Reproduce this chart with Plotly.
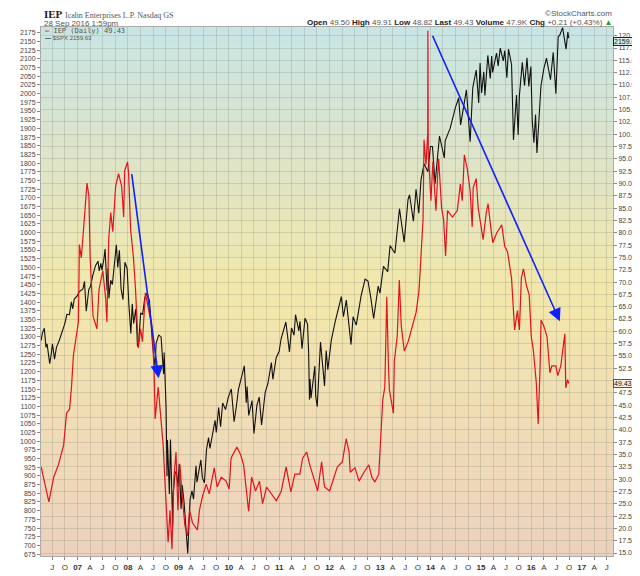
import pandas as pd
import plotly.graph_objects as go

# $SPX (left axis)
spx_dates = [
    "2006-04-12", "2006-04-21", "2006-05-05", "2006-05-17", "2006-05-25", "2006-06-13", "2006-06-22",
    "2006-07-03", "2006-07-18", "2006-08-01", "2006-08-23", "2006-09-12", "2006-09-29", "2006-10-16",
    "2006-11-03", "2006-11-17", "2006-11-27", "2006-12-08", "2006-12-29", "2007-01-12", "2007-02-09",
    "2007-02-20", "2007-03-05", "2007-03-23", "2007-04-04", "2007-04-23", "2007-05-11", "2007-05-29",
    "2007-06-07", "2007-06-19", "2007-06-27", "2007-07-11", "2007-07-19", "2007-08-03", "2007-08-09",
    "2007-08-16", "2007-08-29", "2007-09-10", "2007-09-25", "2007-10-09", "2007-10-19", "2007-10-31",
    "2007-11-12", "2007-11-26", "2007-12-10", "2007-12-26", "2008-01-08", "2008-01-22", "2008-02-01",
    "2008-02-11", "2008-02-27", "2008-03-10", "2008-03-17", "2008-04-02", "2008-04-16", "2008-05-02",
    "2008-05-19", "2008-06-05", "2008-06-27", "2008-07-15", "2008-07-23", "2008-08-11", "2008-08-28",
    "2008-09-15", "2008-09-19", "2008-09-29", "2008-10-03", "2008-10-10", "2008-10-13", "2008-10-27",
    "2008-11-04", "2008-11-20", "2008-11-24", "2008-12-08", "2008-12-16", "2008-12-29", "2009-01-06",
    "2009-01-20", "2009-01-28", "2009-02-10", "2009-02-23", "2009-03-09", "2009-03-26", "2009-04-09",
    "2009-04-20", "2009-05-08", "2009-05-15", "2009-06-12", "2009-06-23", "2009-07-08", "2009-07-23",
    "2009-08-07", "2009-08-17", "2009-09-04", "2009-09-23", "2009-10-02", "2009-10-19", "2009-11-02",
    "2009-11-17", "2009-12-08", "2009-12-28", "2010-01-19", "2010-02-08", "2010-02-25", "2010-03-12",
    "2010-04-23", "2010-05-07", "2010-05-13", "2010-05-25", "2010-06-18", "2010-07-02", "2010-07-23",
    "2010-08-09", "2010-08-26", "2010-09-21", "2010-10-11", "2010-11-05", "2010-11-16", "2010-12-10",
    "2010-12-31", "2011-01-14", "2011-02-18", "2011-03-16", "2011-03-31", "2011-04-18", "2011-04-29",
    "2011-05-23", "2011-05-31", "2011-06-15", "2011-07-07", "2011-07-25", "2011-08-02", "2011-08-08",
    "2011-08-12", "2011-08-19", "2011-09-16", "2011-09-22", "2011-10-03", "2011-10-27", "2011-11-25",
    "2011-12-07", "2011-12-19", "2012-01-13", "2012-02-10", "2012-03-26", "2012-04-10", "2012-05-01",
    "2012-06-04", "2012-06-19", "2012-07-12", "2012-08-16", "2012-09-14", "2012-10-05", "2012-10-26",
    "2012-11-15", "2012-12-18", "2012-12-31", "2013-01-25", "2013-02-25", "2013-03-14", "2013-04-18",
    "2013-05-21", "2013-06-24", "2013-07-22", "2013-08-02", "2013-08-30", "2013-09-18", "2013-10-08",
    "2013-10-24", "2013-11-15", "2013-12-13", "2013-12-31", "2014-01-15", "2014-02-03", "2014-03-07",
    "2014-04-11", "2014-04-17", "2014-05-23", "2014-06-30", "2014-07-24", "2014-08-07", "2014-09-18",
    "2014-10-15", "2014-11-03", "2014-11-28", "2014-12-16", "2014-12-26", "2015-01-06", "2015-01-22",
    "2015-01-30", "2015-02-20", "2015-03-10", "2015-03-20", "2015-03-27", "2015-04-24", "2015-05-06",
    "2015-05-21", "2015-06-12", "2015-06-23", "2015-07-08", "2015-07-20", "2015-08-11", "2015-08-25",
    "2015-09-16", "2015-09-28", "2015-10-07", "2015-10-28", "2015-11-13", "2015-12-01", "2015-12-14",
    "2015-12-29", "2016-01-08", "2016-01-20", "2016-02-01", "2016-02-11", "2016-03-11", "2016-04-01",
    "2016-04-20", "2016-05-19", "2016-06-08", "2016-06-27", "2016-07-14", "2016-07-26", "2016-08-15",
    "2016-09-09", "2016-09-22", "2016-09-28",
]
spx_close = [
    1290, 1311, 1325, 1270, 1280, 1223, 1245,
    1280, 1236, 1270, 1292, 1313, 1336, 1365,
    1364, 1401, 1381, 1409, 1418, 1430, 1438,
    1460, 1374, 1436, 1445, 1480, 1505, 1518,
    1490, 1512, 1492, 1525, 1553, 1433, 1497,
    1411, 1463, 1451, 1518, 1565, 1500, 1549,
    1439, 1407, 1515, 1497, 1390, 1310, 1395,
    1339, 1381, 1273, 1276, 1369, 1364, 1413,
    1426, 1404, 1278, 1214, 1282, 1305, 1300,
    1193, 1255, 1106, 1099, 899, 1003, 848,
    1005, 752, 852, 909, 913, 869, 935,
    805, 874, 827, 743, 677, 832, 857,
    833, 929, 882, 946, 895, 880, 976,
    1010, 979, 1016, 1060, 1025, 1097, 1042,
    1110, 1091, 1127, 1150, 1056, 1102, 1150,
    1217, 1111, 1157, 1074, 1117, 1022, 1103,
    1127, 1047, 1140, 1166, 1226, 1178, 1240,
    1258, 1294, 1343, 1257, 1326, 1305, 1364,
    1317, 1345, 1266, 1354, 1337, 1254, 1119,
    1179, 1124, 1216, 1130, 1099, 1285, 1159,
    1261, 1206, 1290, 1343, 1416, 1358, 1406,
    1278, 1358, 1334, 1418, 1466, 1461, 1411,
    1353, 1446, 1426, 1503, 1488, 1563, 1541,
    1669, 1573, 1695, 1709, 1633, 1725, 1656,
    1752, 1798, 1775, 1848, 1848, 1741, 1878,
    1815, 1864, 1900, 1960, 1988, 1910, 2011,
    1862, 2017, 2068, 1973, 2088, 2002, 2063,
    1995, 2110, 2044, 2108, 2061, 2117, 2080,
    2131, 2094, 2124, 2046, 2128, 2084, 1867,
    1996, 1881, 1995, 2090, 2023, 2103, 2021,
    2078, 1922, 1859, 1940, 1829, 2022, 2072,
    2102, 2040, 2119, 2000, 2163, 2169, 2190,
    2128, 2177, 2159.63,
]

# IEP daily (right axis)
iep_dates = [
    "2006-04-12", "2006-06-07", "2006-07-12", "2006-08-15", "2006-09-22", "2006-10-13", "2006-11-04",
    "2006-11-18", "2006-12-02", "2006-12-16", "2007-01-07", "2007-01-14", "2007-01-28", "2007-02-19",
    "2007-03-10", "2007-03-24", "2007-04-02", "2007-04-23", "2007-05-21", "2007-06-05", "2007-07-03",
    "2007-07-24", "2007-08-01", "2007-08-15", "2007-08-29", "2007-09-13", "2007-10-04", "2007-10-25",
    "2007-11-16", "2007-12-01", "2007-12-08", "2007-12-29", "2008-01-06", "2008-01-20", "2008-02-10",
    "2008-02-25", "2008-03-16", "2008-04-01", "2008-04-15", "2008-05-06", "2008-05-27", "2008-06-25",
    "2008-07-09", "2008-07-16", "2008-08-07", "2008-08-29", "2008-09-12", "2008-09-26", "2008-10-18",
    "2008-11-01", "2008-11-15", "2008-11-29", "2008-12-14", "2008-12-28", "2009-01-12", "2009-01-26",
    "2009-02-17", "2009-03-08", "2009-03-22", "2009-04-13", "2009-05-18", "2009-06-02", "2009-06-23",
    "2009-07-21", "2009-08-12", "2009-09-17", "2009-10-08", "2009-11-07", "2009-12-12", "2010-01-03",
    "2010-01-17", "2010-02-28", "2010-03-28", "2010-04-18", "2010-05-10", "2010-05-24", "2010-06-15",
    "2010-07-13", "2010-08-11", "2010-09-02", "2010-10-01", "2010-11-06", "2010-12-11", "2011-01-16",
    "2011-02-20", "2011-03-26", "2011-04-24", "2011-05-30", "2011-06-20", "2011-07-19", "2011-08-10",
    "2011-09-15", "2011-10-06", "2011-11-04", "2011-11-25", "2012-01-01", "2012-01-22", "2012-02-26",
    "2012-04-02", "2012-04-30", "2012-05-21", "2012-05-29", "2012-07-03", "2012-08-01", "2012-09-06",
    "2012-10-11", "2012-11-02", "2012-11-24", "2012-12-22", "2013-01-06", "2013-01-20", "2013-02-04",
    "2013-02-18", "2013-03-02", "2013-03-09", "2013-04-07", "2013-04-14", "2013-05-05", "2013-05-20",
    "2013-06-03", "2013-06-25", "2013-07-23", "2013-08-28", "2013-09-19", "2013-10-10", "2013-10-24",
    "2013-11-08", "2013-11-15", "2013-11-29", "2013-12-12", "2013-12-13", "2013-12-16", "2013-12-20",
    "2014-01-04", "2014-01-18", "2014-02-09", "2014-02-23", "2014-03-01", "2014-03-22", "2014-04-06",
    "2014-04-20", "2014-05-04", "2014-06-09", "2014-07-14", "2014-08-05", "2014-08-19", "2014-09-03",
    "2014-09-24", "2014-10-15", "2014-10-30", "2014-11-06", "2014-11-28", "2014-12-12", "2014-12-26",
    "2015-01-17", "2015-02-08", "2015-02-22", "2015-03-13", "2015-03-28", "2015-04-26", "2015-06-01",
    "2015-06-22", "2015-07-13", "2015-08-11", "2015-09-02", "2015-09-23", "2015-10-07", "2015-10-21",
    "2015-11-05", "2015-11-26", "2015-12-17", "2016-01-01", "2016-01-15", "2016-02-06", "2016-02-13",
    "2016-02-20", "2016-03-05", "2016-03-12", "2016-04-03", "2016-04-24", "2016-05-15", "2016-05-29",
    "2016-06-27", "2016-07-11", "2016-08-02", "2016-08-16", "2016-08-31", "2016-09-07", "2016-09-20",
    "2016-09-28",
]
iep_close = [
    32.5, 25.4, 30.4, 32.9, 36.9, 43.4, 44.2,
    48.7, 55.2, 57.9, 61.9, 77.6, 74.9, 82.8,
    90.1, 87.5, 74.9, 63.1, 60.5, 68.4, 72.3,
    66.4, 61.9, 78.8, 84.1, 80.2, 89.5, 92.0,
    89.5, 83.2, 92.6, 94.4, 92.0, 80.8, 74.9,
    68.4, 56.6, 60.5, 57.9, 67.8, 65.0, 60.5,
    51.2, 42.2, 48.7, 42.2, 36.9, 29.0, 17.2,
    23.7, 15.8, 30.4, 35.5, 23.7, 32.9, 27.0,
    20.5, 18.5, 23.7, 21.1, 19.7, 23.7, 26.4,
    29.0, 27.0, 32.3, 28.4, 30.4, 29.6, 28.0,
    34.3, 36.5, 34.9, 32.9, 27.6, 23.5, 30.4,
    27.6, 29.6, 25.0, 28.4, 27.0, 25.6, 27.6,
    32.5, 27.4, 31.0, 31.0, 34.3, 35.5, 32.9,
    29.6, 27.6, 33.5, 28.4, 27.6, 29.6, 32.5,
    33.5, 38.2, 35.5, 31.4, 32.3, 29.6, 31.4,
    32.9, 30.4, 29.4, 31.0, 38.2, 46.1, 48.7,
    67.0, 53.2, 48.1, 43.4, 54.0, 59.1, 70.4,
    61.1, 56.0, 57.9, 61.9, 63.9, 68.4, 76.3,
    82.8, 98.9, 93.8, 100.3, 121.0, 95.0, 94.4,
    86.5, 94.4, 84.5, 92.4, 95.0, 85.1, 82.6,
    75.3, 84.5, 83.2, 84.5, 89.9, 86.5, 95.8,
    93.0, 88.5, 81.2, 89.1, 91.0, 85.1, 82.6,
    78.6, 83.9, 85.9, 81.2, 78.0, 80.0, 81.6,
    77.3, 76.1, 70.8, 60.3, 64.2, 60.3, 70.8,
    72.7, 69.4, 67.4, 58.9, 56.4, 49.7, 46.5,
    41.2, 53.0, 62.3, 60.9, 58.9, 51.6, 53.0,
    53.0, 51.0, 53.0, 56.4, 59.5, 48.5, 50.2,
    49.43,
]

# header quote
symbol = "IEP"
company = "Icahn Enterprises L.P. Nasdaq GS"
stamp = "28 Sep 2016 1:59pm"
quote = [("Open", "49.50"), ("High", "49.91"), ("Low", "48.82"), ("Last", "49.43"),
         ("Volume", "47.9K"), ("Chg", "+0.21 (+0.43%)")]
iep_last = 49.43
spx_last = 2159.63

# trend arrows: (tail date, tail SPX level, head date, head SPX level)
arrows = [
    ("2008-01-27", 1773, "2008-08-10", 1181),
    ("2014-01-11", 2171, "2016-07-26", 1345),
]

W, H = 640, 576
L, R, T, B = 29, 30, 19, 12
PW, PH = W - L - R, H - T - B


def px(x):
    return (x - L) / PW


def py(y):
    return (H - B - y) / PH


font = "Liberation Sans"
grid = "rgba(120,130,115,0.24)"

fig = go.Figure()
fig.add_trace(go.Scatter(x=spx_dates, y=spx_close, mode="lines", name="$SPX",
                         line=dict(color="#111111", width=1.1)))
fig.add_trace(go.Scatter(x=iep_dates, y=iep_close, mode="lines", name="IEP", yaxis="y2",
                         line=dict(color="#e3121b", width=1.2)))

# gradient background in bands
stops = [(0.0, (200, 230, 229)), (0.25, (222, 228, 200)), (0.5, (243, 232, 170)),
         (0.75, (240, 220, 182)), (1.0, (236, 210, 190))]
n = 90
shapes = []
for i in range(n):
    f = (i + 0.5) / n
    for j in range(len(stops) - 1):
        if stops[j][0] <= f <= stops[j + 1][0]:
            a, ca = stops[j]
            b, cb = stops[j + 1]
            t = (f - a) / (b - a)
            c = tuple(int(ca[k] + (cb[k] - ca[k]) * t) for k in range(3))
            break
    shapes.append(dict(type="rect", xref="paper", yref="paper", x0=0, x1=1,
                       y0=1 - (i + 1) / n, y1=1 - i / n + 0.001, layer="below",
                       line=dict(width=0), fillcolor="rgb(%d,%d,%d)" % c))

# quarterly ticks
qs = pd.date_range("2006-07-01", "2017-07-01", freq="QS")
tick_vals = [d.strftime("%Y-%m-%d") for d in qs]
tick_text = [("<b>%s</b>" % d.strftime("%y")) if d.month == 1 else {4: "A", 7: "J", 10: "O"}[d.month]
             for d in qs]

# right axis ticks; the 50.0 label sits under the last-price tag
r_vals = [15 + 2.5 * i for i in range(43)]
r_text = ["" if v == 50 else "%.1f" % v for v in r_vals]

ann = []
for t0, v0, t1, v1 in arrows:
    ann.append(dict(x=t1, y=v1, ax=t0, ay=v0, xref="x", yref="y", axref="x", ayref="y",
                    text="", showarrow=True, arrowhead=2, arrowsize=1.6, arrowwidth=1.6,
                    arrowcolor="#1020ff"))

ann += [
    dict(x=px(30), y=py(6), xref="paper", yref="paper", xanchor="left", yanchor="middle",
         showarrow=False,
         text="<b>%s</b> <span style='font-size:8px;color:#555'>%s</span>" % (symbol, company),
         font=dict(family="Liberation Serif", size=11, color="#222")),
    dict(x=px(30), y=py(15), xref="paper", yref="paper", xanchor="left", yanchor="middle",
         showarrow=False, text=stamp, font=dict(family=font, size=8, color="#555")),
    dict(x=px(611), y=py(5), xref="paper", yref="paper", xanchor="right", yanchor="middle",
         showarrow=False, text="©StockCharts.com", font=dict(family=font, size=8, color="#555")),
    dict(x=px(611), y=py(14), xref="paper", yref="paper", xanchor="right", yanchor="middle",
         showarrow=False,
         text=" ".join("<b>%s</b> <span style='color:#555'>%s</span>" % q for q in quote)
         + " <span style='color:#2a9d2a'>▲</span>",
         font=dict(family=font, size=8, color="#222")),
    dict(x=px(31), y=py(23), xref="paper", yref="paper", xanchor="left", yanchor="middle",
         showarrow=False,
         text="<span style='color:#e3121b'><b>—</b></span> IEP (Daily) %.2f" % iep_last,
         font=dict(family="DejaVu Sans Mono", size=7, color="#555")),
    dict(x=px(31), y=py(30.5), xref="paper", yref="paper", xanchor="left", yanchor="middle",
         showarrow=False,
         text="<span style='color:#111'><b>—</b></span> $SPX %.2f" % spx_last,
         font=dict(family=font, size=6, color="#555")),
    dict(x=1.0, y=spx_last, xref="paper", yref="y", xanchor="left", yanchor="middle",
         yshift=-3, showarrow=False, text="%.2f" % spx_last, bgcolor="#d6f0ee",
         bordercolor="#222", borderwidth=1, borderpad=0,
         font=dict(family=font, size=7, color="#111")),
    dict(x=1.0, y=iep_last, xref="paper", yref="y2", xanchor="left", yanchor="middle",
         showarrow=False, text="%.2f" % iep_last, bgcolor="#f6f0e0", bordercolor="#e3121b",
         borderwidth=1, borderpad=0, font=dict(family=font, size=7, color="#111")),
]

fig.update_layout(
    width=W, height=H,
    margin=dict(l=L, r=R, t=T, b=B),
    paper_bgcolor="white", plot_bgcolor="rgba(0,0,0,0)",
    showlegend=False,
    shapes=shapes, annotations=ann,
    xaxis=dict(type="date", range=["2006-04-11", "2017-08-15"], tickvals=tick_vals,
               ticktext=tick_text, showgrid=True, gridcolor=grid, gridwidth=1,
               ticks="outside", ticklen=3, tickcolor="#888", zeroline=False,
               showline=True, linecolor="#aaa", mirror=True,
               tickfont=dict(family=font, size=8, color="#333")),
    yaxis=dict(range=[669.6, 2191.8], tickvals=list(range(675, 2176, 25)), showgrid=False,
               ticks="outside", ticklen=3, tickcolor="#888", zeroline=False,
               showline=True, linecolor="#aaa",
               tickfont=dict(family=font, size=7, color="#444")),
    yaxis2=dict(range=[14.4, 121.77], overlaying="y", side="right",
                tickvals=r_vals, ticktext=r_text,
                showgrid=True, gridcolor=grid, gridwidth=1, zeroline=False,
                ticks="outside", ticklen=3, tickcolor="#888", showline=True, linecolor="#aaa",
                tickfont=dict(family=font, size=7, color="#444")),
)

fig.write_html("out.html")
